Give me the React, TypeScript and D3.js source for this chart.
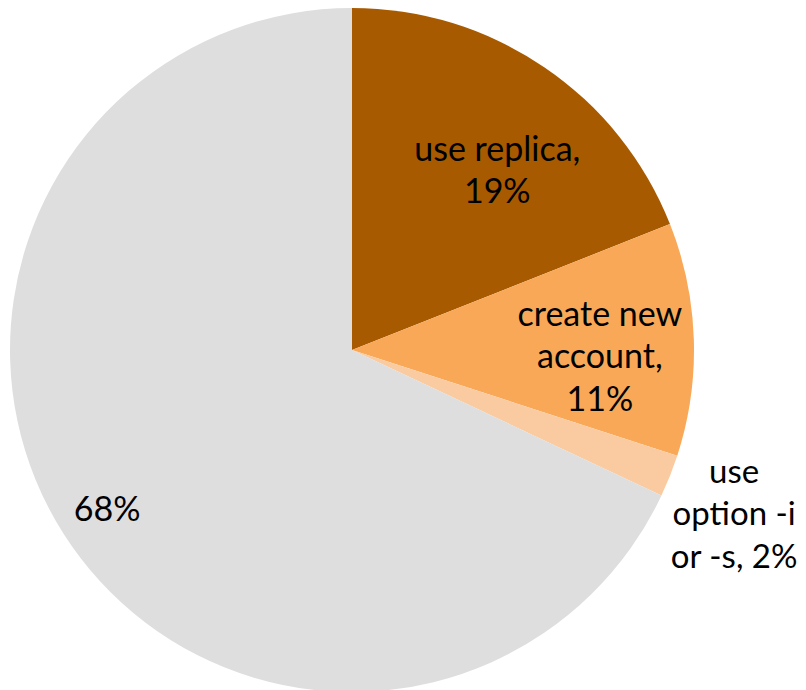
import React from "react";
import * as d3 from "d3";

const categories = ["use replica", "create new account", "use option -i or -s", "other"];
const values = [19, 11, 2, 68];
const labelLines = [
  ["use replica,", "19%"],
  ["create new", "account,", "11%"],
  ["use", "option -i", "or -s, 2%"],
  ["68%"],
];
const colors = ["#A85A00", "#F9A857", "#FACBA0", "#DEDEDE"];
// label placement: radius from center, plus small nudges
const labelRadius = [230, 248, 425, 290];
const labelNudge = [[16, 22], [0, 26], [-13, 19], [0, 16]];
const labelFont = [34, 34, 33, 34];

const W = 806;
const H = 690;
const cx = 352;
const cy = 350;
const R = 342;
const LINE = 42.5;

export default function App() {
  const pie = d3.pie<number>().sort(null).value((d) => d);
  const arcs = pie(values);
  const arcGen = d3.arc<d3.PieArcDatum<number>>().innerRadius(0).outerRadius(R);
  return (
    <svg width={W} height={H} style={{ position: "absolute", left: 0, top: 0 }}>
      <rect width={W} height={H} fill="#fff" />
      <g transform={`translate(${cx},${cy})`}>
        {arcs.map((a, i) => (
          <path key={categories[i]} d={arcGen(a) || ""} fill={colors[i]} />
        ))}
        {arcs.map((a, i) => {
          const lr = labelRadius[i];
          const [x, y] = d3.arc<d3.PieArcDatum<number>>().innerRadius(lr).outerRadius(lr).centroid(a);
          const lines = labelLines[i];
          const x0 = x + labelNudge[i][0];
          const y0 = y + labelNudge[i][1] - ((lines.length - 1) * LINE) / 2;
          return (
            <text
              key={"l" + i}
              x={x0}
              y={y0}
              textAnchor="middle"
              fontFamily="Lato, sans-serif"
              fontSize={labelFont[i]}
              fill="#000"
            >
              {lines.map((ln, j) => (
                <tspan key={j} x={x0} y={y0 + j * LINE}>
                  {ln}
                </tspan>
              ))}
            </text>
          );
        })}
      </g>
    </svg>
  );
}
